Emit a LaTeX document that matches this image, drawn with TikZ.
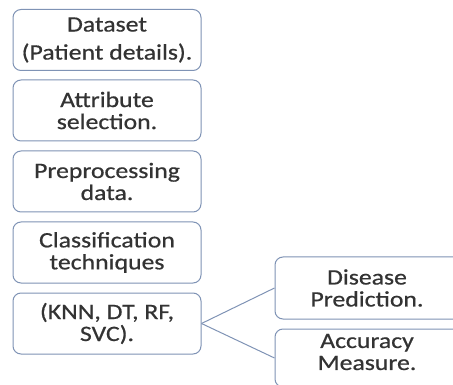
\documentclass[tikz,border=0pt]{standalone}
\usepackage{fontspec}
\setmainfont{Carlito}[FakeStretch=1.17,FakeBold=0.6]
\begin{document}
\begin{tikzpicture}[x=1pt,y=-1pt,
  rbox/.style={draw=boxc, line width=1pt, rounded corners=8pt, fill=white,
    minimum width=188pt, minimum height=61pt, inner sep=0pt},
  txt/.style={text=textc, align=center, font=\fontsize{22}{22}\selectfont},
  link/.style={draw=boxc, line width=1pt}]
\definecolor{boxc}{HTML}{7F93B5}
\definecolor{textc}{HTML}{333333}
\useasboundingbox (0,0) rectangle (453,385);
\node[rbox] (b1) at (107,40) {};
\node[txt] (t1) at (b1.center) {Dataset\\[6pt](Patient details).};
\node[rbox] (b2) at (107,110.5) {};
\node[txt] (t2) at (b2.center) {Attribute\\selection.};
\node[rbox] (b3) at (107,181.5) {};
\node[txt] (t3) at (b3.center) {Preprocessing\\data.};
\node[rbox] (b4) at (107,252.5) {};
\node[txt] (t4) at (b4.center) {Classification\\techniques};
\node[rbox] (b5) at (107,323.5) {};
\node[txt] (t5) at (b5.center) {(KNN, DT, RF,\\SVC).};
\node[rbox, minimum width=195pt, minimum height=62pt] (b6) at (372.5,288) {};
\node[txt] (t6) at (367,288) {Disease\\Prediction.};
\node[rbox, minimum width=195pt, minimum height=58pt] (b7) at (372.5,358) {};
\node[txt] (t7) at (367,352) {Accuracy\\Measure.};
\draw[link] (b5.east) -- (b6.west);
\draw[link] (b5.east) -- (b7.west);
\end{tikzpicture}
\end{document}
